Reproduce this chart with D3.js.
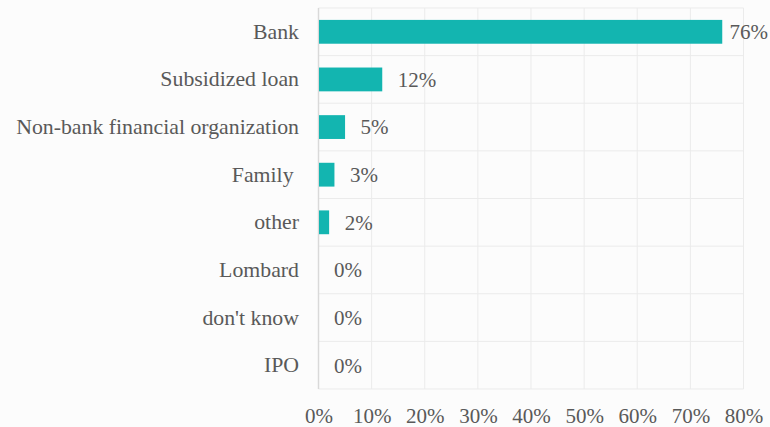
<!DOCTYPE html>
<html>
<head>
<meta charset="utf-8">
<script src="https://cdn.jsdelivr.net/npm/d3@7"></script>
<style>
  html, body { margin: 0; padding: 0; background: #fcfcfc; }
  svg { display: block; }
</style>
</head>
<body>
<svg id="chart" width="770" height="427"></svg>
<script>
// Sources of financing, share of respondents (%)
const categories = ["Bank", "Subsidized loan", "Non-bank financial organization", "Family ", "other", "Lombard", "don't know", "IPO"];
const values = [76, 12, 5, 3, 2, 0, 0, 0];
const tickValues = [0, 10, 20, 30, 40, 50, 60, 70, 80];

const W = 770, H = 427;
const margin = { top: 8, right: 26.5, bottom: 38, left: 318.5 };
const innerW = W - margin.left - margin.right;
const innerH = H - margin.top - margin.bottom;
const FONT = "Liberation Serif";

const svg = d3.select("#chart");
const g = svg.append("g").attr("transform", `translate(${margin.left},${margin.top})`);

const x = d3.scaleLinear().domain([0, 80]).range([0, innerW]);
const y = d3.scaleBand().domain(categories).range([0, innerH]).paddingInner(0.5).paddingOuter(0.25);

const textColor = "#595959";
const gridColor = "#ebebeb";

// vertical gridlines
g.append("g").selectAll("line").data(tickValues.slice(1)).join("line")
  .attr("x1", d => x(d)).attr("x2", d => x(d))
  .attr("y1", 0).attr("y2", innerH)
  .attr("stroke", gridColor).attr("stroke-width", 1);

// horizontal row separators
const rowEdges = d3.range(categories.length + 1).map(i => i * innerH / categories.length);
g.append("g").selectAll("line").data(rowEdges).join("line")
  .attr("x1", 0).attr("x2", x(80))
  .attr("y1", d => d).attr("y2", d => d)
  .attr("stroke", gridColor).attr("stroke-width", 1);

// category axis line
g.append("line")
  .attr("x1", 0).attr("x2", 0).attr("y1", 0).attr("y2", innerH)
  .attr("stroke", "#d9d9d9").attr("stroke-width", 1.5);

// bars
g.append("g").selectAll("rect").data(values).join("rect")
  .attr("x", 0.5)
  .attr("y", (d, i) => y(categories[i]))
  .attr("width", d => Math.max(0, x(d) - 0.5))
  .attr("height", y.bandwidth())
  .attr("fill", "#13b5b0");

// value labels
const labels = g.append("g").selectAll("text").data(values).join("text")
  .attr("y", (d, i) => y(categories[i]) + y.bandwidth() / 2)
  .attr("dy", "0.35em")
  .attr("fill", textColor)
  .style("font-family", FONT)
  .style("font-size", "21px")
  .text(d => d + "%");
labels.each(function(d) {
  const tw = this.getComputedTextLength();
  const maxX = W - margin.left - tw - 2;
  d3.select(this).attr("x", Math.min(x(d) + 15.5, maxX));
});

// category labels
const yAxis = g.append("g")
  .call(d3.axisLeft(y).tickSize(0).tickPadding(19.5));
yAxis.select(".domain").remove();
yAxis.selectAll("text")
  .attr("fill", textColor)
  .style("font-family", FONT)
  .style("font-size", "21.8px")
  .style("white-space", "pre");

// value axis
const xAxis = g.append("g")
  .attr("transform", `translate(0,${innerH})`)
  .call(d3.axisBottom(x).tickValues(tickValues).tickFormat(d => d + "%").tickSize(0).tickPadding(19.5));
xAxis.select(".domain").remove();
xAxis.selectAll("text")
  .attr("fill", textColor)
  .style("font-family", FONT)
  .style("font-size", "21px");
</script>
</body>
</html>
